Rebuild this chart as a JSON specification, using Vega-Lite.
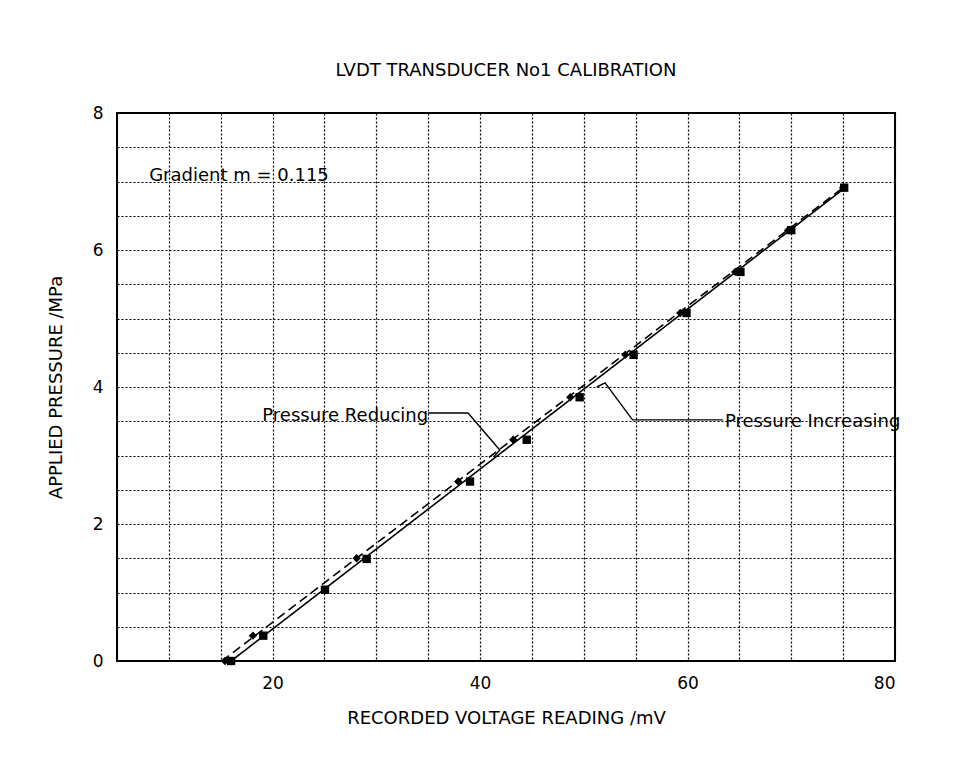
{
  "$schema": "https://vega.github.io/schema/vega-lite/v6.json",
  "width": 778,
  "height": 548,
  "autosize": {"type": "none"},
  "padding": {"left": 117, "top": 113, "right": 59, "bottom": 106},
  "background": "white",
  "title": {"text": "LVDT TRANSDUCER No1 CALIBRATION", "font": "DejaVu Sans", "fontSize": 18, "fontWeight": "normal", "color": "black", "offset": 24},
  "config": {
    "view": {"stroke": "black", "strokeWidth": 2},
    "axis": {
      "gridColor": "black", "gridDash": [2, 2], "gridWidth": 1.2, "gridOpacity": 1,
      "domain": false, "ticks": false,
      "labelFont": "DejaVu Sans", "labelFontSize": 17, "labelColor": "black",
      "titleFont": "DejaVu Sans", "titleFontSize": 18, "titleFontWeight": "normal", "titleColor": "black"
    }
  },
  "datasets": {
    "pts": [
      {"v": 16.0, "p": 0, "s": "Pressure Increasing"},
      {"v": 19.1, "p": 0.37, "s": "Pressure Increasing"},
      {"v": 25.05, "p": 1.04, "s": "Pressure Increasing"},
      {"v": 29.07, "p": 1.49, "s": "Pressure Increasing"},
      {"v": 39.03, "p": 2.62, "s": "Pressure Increasing"},
      {"v": 44.5, "p": 3.23, "s": "Pressure Increasing"},
      {"v": 49.6, "p": 3.85, "s": "Pressure Increasing"},
      {"v": 54.8, "p": 4.47, "s": "Pressure Increasing"},
      {"v": 59.9, "p": 5.08, "s": "Pressure Increasing"},
      {"v": 65.1, "p": 5.68, "s": "Pressure Increasing"},
      {"v": 70.0, "p": 6.29, "s": "Pressure Increasing"},
      {"v": 75.1, "p": 6.91, "s": "Pressure Increasing"},
      {"v": 15.4, "p": 0, "s": "Pressure Reducing"},
      {"v": 18.1, "p": 0.37, "s": "Pressure Reducing"},
      {"v": 28.1, "p": 1.5, "s": "Pressure Reducing"},
      {"v": 37.9, "p": 2.62, "s": "Pressure Reducing"},
      {"v": 43.2, "p": 3.23, "s": "Pressure Reducing"},
      {"v": 48.7, "p": 3.85, "s": "Pressure Reducing"},
      {"v": 54.0, "p": 4.47, "s": "Pressure Reducing"},
      {"v": 59.3, "p": 5.08, "s": "Pressure Reducing"},
      {"v": 64.6, "p": 5.68, "s": "Pressure Reducing"},
      {"v": 69.7, "p": 6.29, "s": "Pressure Reducing"},
      {"v": 75.0, "p": 6.91, "s": "Pressure Reducing"}
    ],
    "fit": [
      {"v": 16.0, "p": 0, "s": "Pressure Increasing"},
      {"v": 75.2, "p": 6.91, "s": "Pressure Increasing"},
      {"v": 15.1, "p": 0, "s": "Pressure Reducing"},
      {"v": 75.0, "p": 6.91, "s": "Pressure Reducing"}
    ],
    "leaders": [
      {"v": 35.0, "p": 3.62, "g": "red", "o": 1},
      {"v": 38.84, "p": 3.62, "g": "red", "o": 2},
      {"v": 41.9, "p": 3.08, "g": "red", "o": 3},
      {"v": 41.3, "p": 2.98, "g": "red", "o": 4},
      {"v": 63.4, "p": 3.52, "g": "inc", "o": 1},
      {"v": 54.7, "p": 3.52, "g": "inc", "o": 2},
      {"v": 52.05, "p": 4.06, "g": "inc", "o": 3},
      {"v": 51.25, "p": 4.0, "g": "inc", "o": 4}
    ],
    "labels": [
      {"v": 8.1, "p": 7.08, "t": "Gradient m = 0.115", "a": "left"},
      {"v": 35.0, "p": 3.58, "t": "Pressure Reducing", "a": "right"},
      {"v": 63.6, "p": 3.49, "t": "Pressure Increasing", "a": "left"}
    ]
  },
  "encoding": {
    "x": {"field": "v", "type": "quantitative", "scale": {"domain": [5, 80], "nice": false, "zero": false},
          "axis": {"grid": true, "tickCount": 40, "values": [5,10,15,20,25,30,35,40,45,50,55,60,65,70,75,80], "format": "d", "labelExpr": "datum.value % 20 === 0 ? datum.label : ''", "labelPadding": 14, "title": "RECORDED VOLTAGE READING /mV", "titlePadding": 18}},
    "y": {"field": "p", "type": "quantitative", "scale": {"domain": [0, 8], "nice": false, "zero": true},
          "axis": {"grid": true, "tickCount": 40, "values": [0,0.5,1,1.5,2,2.5,3,3.5,4,4.5,5,5.5,6,6.5,7,7.5,8], "format": ".1f", "labelExpr": "datum.value % 2 === 0 ? format(datum.value, 'd') : ''", "labelPadding": 14, "title": "APPLIED PRESSURE /MPa", "titlePadding": 27}}
  },
  "layer": [
    {
      "data": {"name": "fit"},
      "mark": {"type": "line", "color": "black", "strokeWidth": 1.6},
      "encoding": {
        "strokeDash": {"field": "s", "type": "nominal", "scale": {"domain": ["Pressure Increasing", "Pressure Reducing"], "range": [[1, 0], [9, 5]]}, "legend": null},
        "detail": {"field": "s"}
      }
    },
    {
      "data": {"name": "pts"},
      "mark": {"type": "point", "filled": true, "color": "black", "opacity": 1, "size": 70},
      "encoding": {
        "shape": {"field": "s", "type": "nominal", "scale": {"domain": ["Pressure Increasing", "Pressure Reducing"], "range": ["square", "diamond"]}, "legend": null}
      }
    },
    {
      "data": {"name": "leaders"},
      "mark": {"type": "line", "color": "black", "strokeWidth": 1.4},
      "encoding": {
        "detail": {"field": "g"},
        "order": {"field": "o", "type": "quantitative"}
      }
    },
    {
      "data": {"name": "labels"},
      "transform": [{"filter": "datum.a === 'left'"}],
      "mark": {"type": "text", "align": "left", "baseline": "middle", "font": "DejaVu Sans", "fontSize": 18, "color": "black"},
      "encoding": {
        "text": {"field": "t"}
      }
    },
    {
      "data": {"name": "labels"},
      "transform": [{"filter": "datum.a === 'right'"}],
      "mark": {"type": "text", "align": "right", "baseline": "middle", "font": "DejaVu Sans", "fontSize": 18, "color": "black"},
      "encoding": {
        "text": {"field": "t"}
      }
    }
  ]
}
